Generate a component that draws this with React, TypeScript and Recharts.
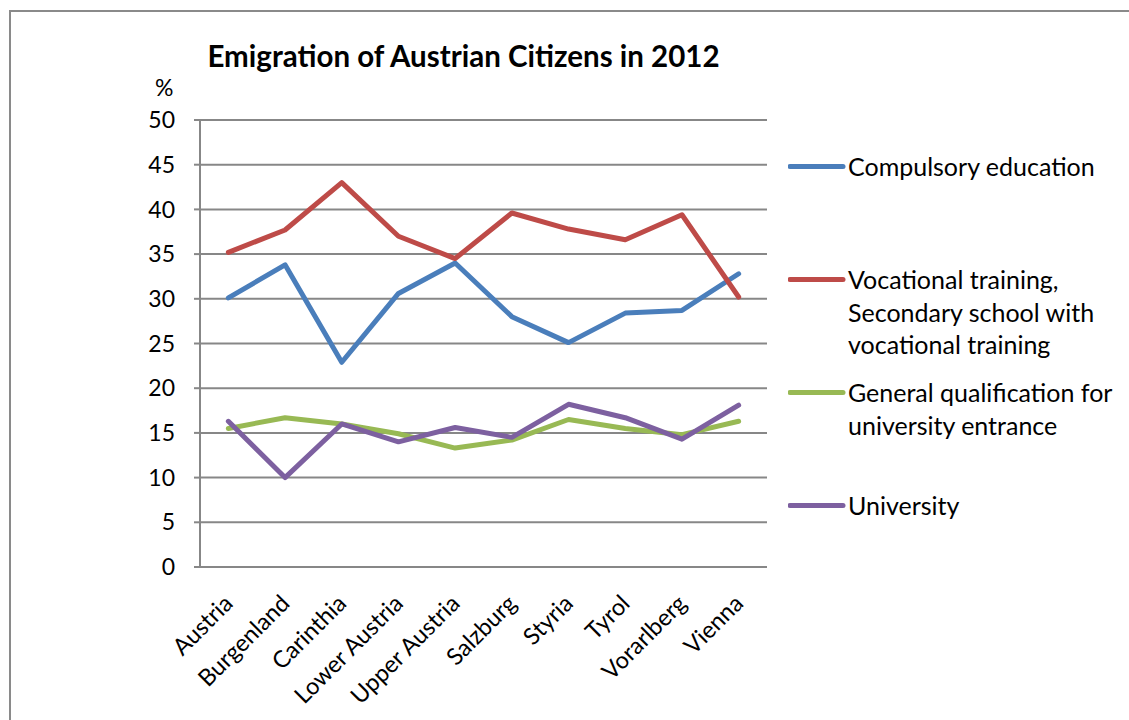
import React from "react";
import { CartesianGrid, Legend, Line, LineChart, XAxis, YAxis } from "recharts";

const regions = [
  "Austria",
  "Burgenland",
  "Carinthia",
  "Lower Austria",
  "Upper Austria",
  "Salzburg",
  "Styria",
  "Tyrol",
  "Vorarlberg",
  "Vienna",
];

const compulsory = [30.1, 33.8, 22.9, 30.6, 34.0, 28.0, 25.1, 28.4, 28.7, 32.8];
const vocational = [35.2, 37.7, 43.0, 37.0, 34.5, 39.6, 37.8, 36.6, 39.4, 30.2];
const general = [15.5, 16.7, 16.0, 14.9, 13.3, 14.2, 16.5, 15.5, 14.8, 16.3];
const university = [16.3, 10.0, 16.0, 14.0, 15.6, 14.5, 18.2, 16.7, 14.3, 18.1];

const yTicks = [0, 5, 10, 15, 20, 25, 30, 35, 40, 45, 50];
const edgeTicks = [0, 1, 2, 3, 4, 5, 6, 7, 8, 9, 10];

const seriesNames = [
  "Compulsory education",
  "Vocational training,\nSecondary school with\nvocational training",
  "General qualification for\nuniversity entrance",
  "University",
];
const seriesKeys = ["compulsory", "vocational", "general", "university"];
const seriesColors = ["#4a7ebb", "#be4b48", "#98b954", "#7d60a0"];

const data = regions.map((region, i) => ({
  region,
  compulsory: compulsory[i],
  vocational: vocational[i],
  general: general[i],
  university: university[i],
}));

const FONT = "Lato, 'Open Sans', sans-serif";
const GRID = "#878787";

function RegionTick(props: any) {
  const { x, y, payload } = props;
  const ax = x + 6;
  const ay = y + 30;
  return (
    <text
      x={ax}
      y={ay}
      textAnchor="end"
      transform={`rotate(-45 ${ax} ${ay})`}
      fontFamily={FONT}
      fontSize={23.5}
      fill="#000"
    >
      {payload.value}
    </text>
  );
}

// legend drawn from the series arrays so it keeps the series order
function SideLegend() {
  return (
    <div style={{ fontFamily: FONT, fontSize: 25, color: "#000" }}>
      {seriesNames.map((name, i) => (
        <div key={seriesKeys[i]} style={{ height: 113, display: "flex", alignItems: "flex-start" }}>
          <svg width={60} height={33} style={{ flex: "none" }}>
            <line x1={2} y1={16.5} x2={55} y2={16.5} stroke={seriesColors[i]} strokeWidth={5} strokeLinecap="round" />
          </svg>
          <div style={{ whiteSpace: "pre-line", lineHeight: "32.5px" }}>{name}</div>
        </div>
      ))}
    </div>
  );
}

export default function App() {
  return (
    <div
      style={{
        position: "absolute",
        left: 0,
        top: 0,
        width: 1129,
        height: 720,
        overflow: "hidden",
        background: "#fff",
      }}
    >
      <div
        style={{
          position: "absolute",
          left: 9,
          top: 10,
          width: 1300,
          height: 900,
          border: "2px solid #8a8a8a",
        }}
      />
      <div
        style={{
          position: "absolute",
          left: 0,
          top: 39,
          width: 927,
          textAlign: "center",
          fontFamily: FONT,
          fontWeight: 700,
          fontSize: 29.5,
          lineHeight: "34px",
        }}
      >
        Emigration of Austrian Citizens in 2012
      </div>
      <div
        style={{
          position: "absolute",
          left: 155,
          top: 73,
          fontFamily: FONT,
          fontSize: 23,
          lineHeight: "28px",
        }}
      >
        %
      </div>
      <div style={{ position: "absolute", left: 0, top: 0 }}>
        <LineChart
          width={1129}
          height={720}
          data={data}
          margin={{ top: 120, right: 362, left: 0, bottom: 3 }}
        >
          <CartesianGrid vertical={false} stroke={GRID} strokeWidth={2} />
          <XAxis
            xAxisId="edge"
            type="number"
            domain={[0, 10]}
            ticks={edgeTicks}
            allowDataOverflow
            height={0}
            tickFormatter={() => ""}
            stroke={GRID}
            strokeWidth={2}
            tickSize={7}
          />
          <XAxis
            xAxisId="cat"
            dataKey="region"
            interval={0}
            height={150}
            padding={{ left: 28.35, right: 28.35 }}
            axisLine={false}
            tickLine={false}
            tick={<RegionTick />}
          />
          <YAxis
            domain={[0, 50]}
            ticks={yTicks}
            width={200}
            stroke={GRID}
            strokeWidth={2}
            tickSize={6}
            tickMargin={19}
            tick={{ fill: "#000", fontSize: 23, fontFamily: FONT }}
          />
          <Legend
            layout="horizontal"
            verticalAlign="middle"
            align="center"
            content={<SideLegend />}
            wrapperStyle={{ left: 788, top: 150, width: 340 }}
          />
          {seriesKeys.map((key, i) => (
            <Line
              key={key}
              xAxisId="cat"
              type="linear"
              dataKey={key}
              name={seriesNames[i]}
              stroke={seriesColors[i]}
              strokeWidth={5}
              strokeLinejoin="round"
              strokeLinecap="round"
              dot={false}
              activeDot={false}
              isAnimationActive={false}
            />
          ))}
        </LineChart>
      </div>
    </div>
  );
}
